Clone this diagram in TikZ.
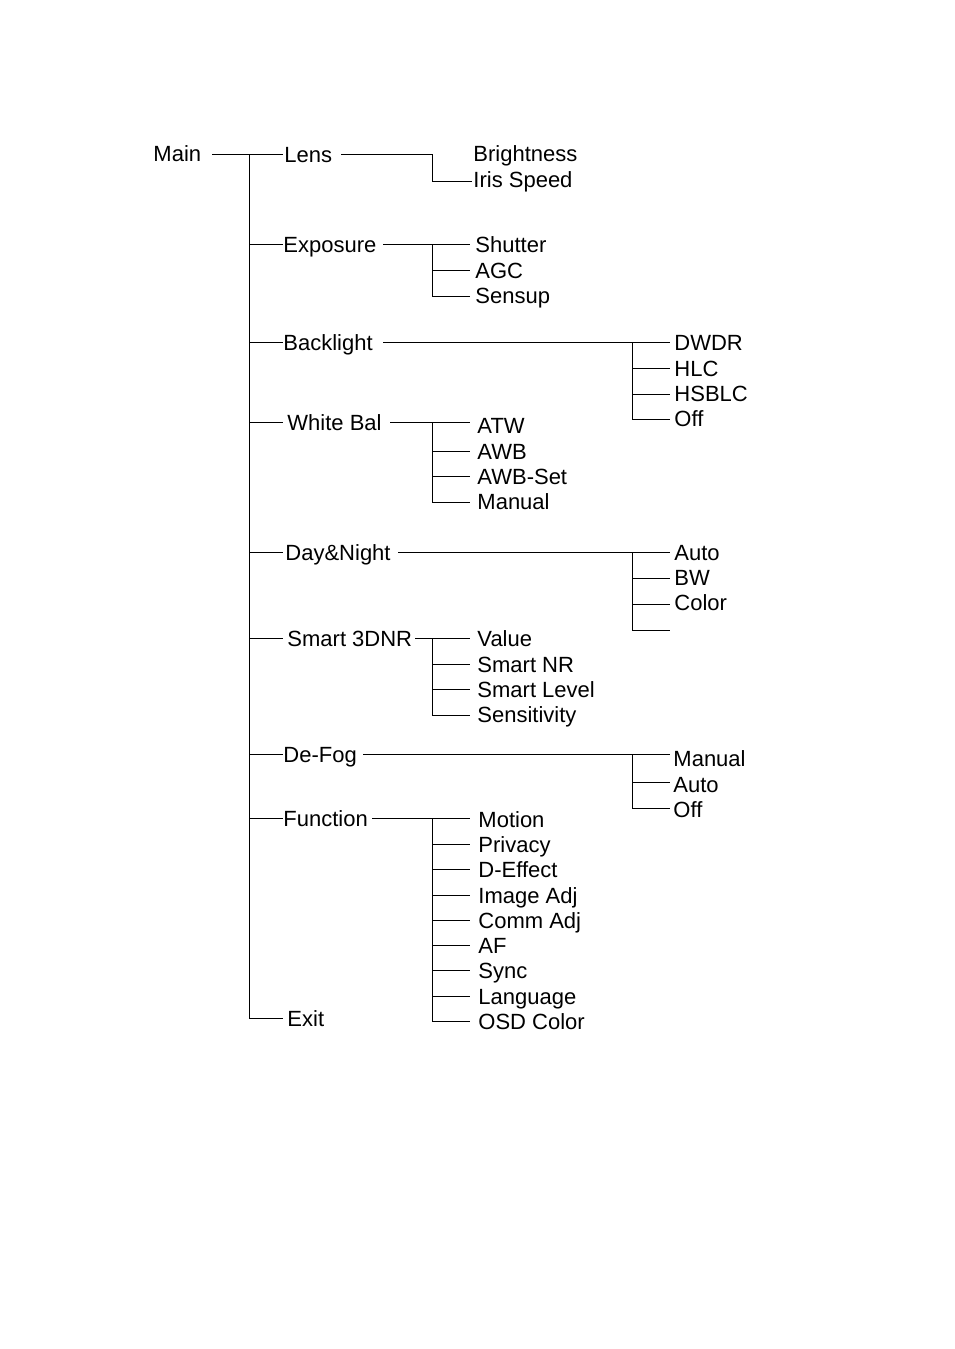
\documentclass[tikz,border=0pt]{standalone}
\usepackage{fontspec}
\setmainfont{Liberation Sans}
\begin{document}
\begin{tikzpicture}[x=1pt,y=-1pt,line width=0.9pt,
  lbl/.style={anchor=base west,inner sep=0pt,font=\fontsize{22}{24}\selectfont}]
\useasboundingbox (0,0) rectangle (954,1349);
\newcommand\lb[3]{\node[lbl] (#1) at (#2,#3+8) {};}
% Main
\node[lbl] (main) at (153,161) {Main};
\draw (212,154) -- (249,154) -- (249,1018) -- (283,1018);
\node[lbl] (exit) at (287,1026) {Exit};
% first level: y, text x, line start, line end
\foreach \n/\t/\y/\tx/\ls/\le in {lens/Lens/154/284/341/432, expo/Exposure/244/283/383/470, back/Backlight/342/283/383/670, wb/White Bal/422/287/390/470, dn/Day\&Night/552/285/398/670, dnr/Smart 3DNR/638/287/415/470, fog/De-Fog/754/283/363/670, fun/Function/818/283/372/470}{
  \draw (249,\y) -- (283,\y);
  \node[lbl] (\n) at (\tx,\y+8) {\t};
  \draw (\ls,\y) -- (\le,\y);
}
% Lens
\draw (432,154) -- (432,181) -- (472,181);
\node[lbl] at (473,161) {Brightness};
\node[lbl] at (473,187) {Iris Speed};
% Exposure
\draw (432,244) -- (432,296);
\foreach \y in {270,296} \draw (432,\y) -- (470,\y);
\foreach \t/\y in {Shutter/244,AGC/270,Sensup/295} \node[lbl] at (475,\y+8) {\t};
% Backlight
\draw (632,342) -- (632,419);
\foreach \y in {368,394,419} \draw (632,\y) -- (670,\y);
\foreach \t/\y in {DWDR/342,HLC/368,HSBLC/393,Off/418} \node[lbl] at (674,\y+8) {\t};
% White Bal
\draw (432,422) -- (432,502);
\foreach \y in {451,476,502} \draw (432,\y) -- (470,\y);
\foreach \t/\y in {ATW/425,AWB/451,AWB-Set/476,Manual/501} \node[lbl] at (477,\y+8) {\t};
% Day&Night
\draw (632,552) -- (632,630);
\foreach \y in {578,604,630} \draw (632,\y) -- (670,\y);
\foreach \t/\y in {Auto/552,BW/577,Color/602} \node[lbl] at (674,\y+8) {\t};
% Smart 3DNR
\draw (432,638) -- (432,715);
\foreach \y in {664,689,715} \draw (432,\y) -- (470,\y);
\foreach \t/\y in {Value/638,Smart NR/664,Smart Level/689,Sensitivity/714} \node[lbl] at (477,\y+8) {\t};
% De-Fog
\draw (632,754) -- (632,808);
\foreach \y in {782,808} \draw (632,\y) -- (670,\y);
\foreach \t/\y in {Manual/758,Auto/784,Off/809} \node[lbl] at (673,\y+8) {\t};
% Function
\draw (432,818) -- (432,1021);
\foreach \y in {844,869,895,920,945,970,996,1021} \draw (432,\y) -- (470,\y);
\foreach \t/\y in {Motion/819,Privacy/844,D-Effect/869,Image Adj/895,Comm Adj/920,AF/945,Sync/970,Language/996,OSD Color/1021} \node[lbl] at (478,\y+8) {\t};
\end{tikzpicture}
\end{document}
